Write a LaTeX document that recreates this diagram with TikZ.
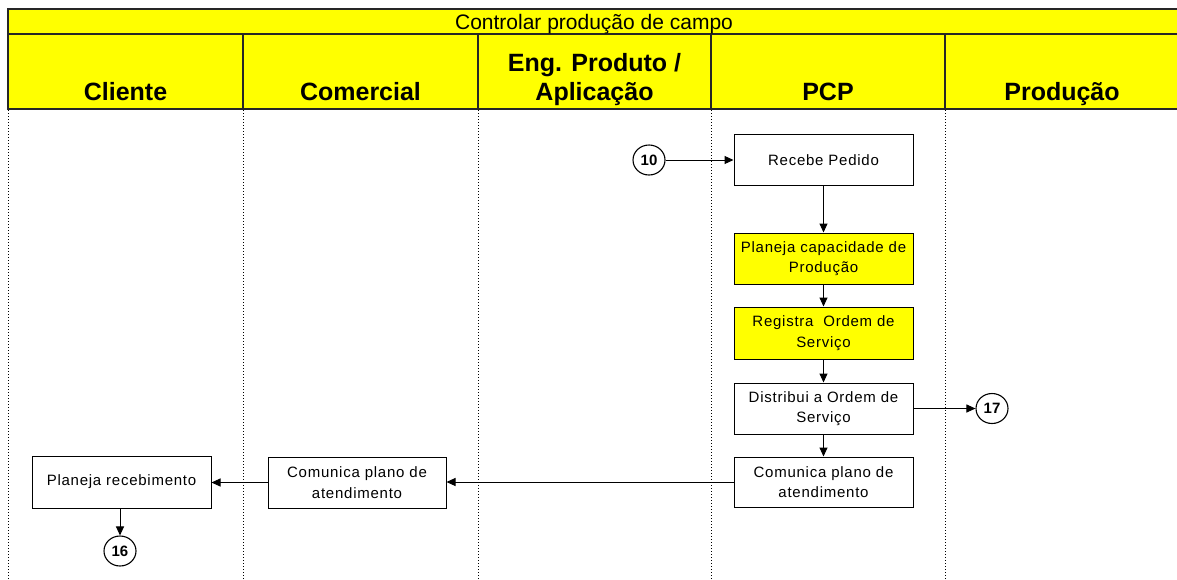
\documentclass[tikz,border=0pt]{standalone}
\usepackage{fontspec}
\setmainfont{Liberation Sans}
\newfontfamily\boxfont[LetterSpace=5]{Liberation Sans}
\usetikzlibrary{arrows.meta,shapes.geometric}
\definecolor{hdryellow}{RGB}{255,255,0}
\tikzset{
  stepbox/.style={draw=black, line width=1pt, rectangle, minimum width=179pt, minimum height=51pt, inner sep=0pt, align=center, font=\boxfont\fontsize{15}{20.5}\selectfont},
  yelbox/.style={stepbox, fill=hdryellow},
  conn/.style={draw=black, line width=1.1pt, ellipse, minimum width=32pt, minimum height=30pt, inner sep=0pt, font=\bfseries\fontsize{15}{15}\selectfont},
  flow/.style={line width=1pt, -{Triangle[length=9pt,width=8pt]}},
  lane/.style={line width=1pt, dotted, black},
  lanehdr/.style={font=\bfseries\fontsize{25}{29}\selectfont, anchor=base},
  hdrline/.style={line width=1.4pt, black!85}
}
\begin{document}
\begin{tikzpicture}[x=1pt,y=-1pt]
\useasboundingbox (0,0) rectangle (1177,579);
% header
\fill[hdryellow] (8,9) rectangle (1180,109);
\draw[hdrline] (1180,9) -- (8,9) -- (8,109) -- (1180,109);
\draw[hdrline] (8,34) -- (1180,34);
\foreach \x in {243,478,711,945} \draw[hdrline] (\x,34) -- (\x,109);
\node[font=\fontsize{21}{24}\selectfont, anchor=base] (title) at (594,29) {Controlar produção de campo};
\node[lanehdr] (hcli) at (125.5,100) {Cliente};
\node[lanehdr] (hcom) at (360.5,100) {Comercial};
\node[lanehdr] (heng1) at (594.5,71) {Eng. Produto /};
\node[lanehdr] (heng2) at (594.5,100) {Aplicação};
\node[lanehdr] (hpcp) at (828,100) {PCP};
\node[lanehdr] (hprod) at (1062,100) {Produção};
% lanes
\foreach \x in {8,243,478,711,945} \draw[lane] (\x,110) -- (\x,579);
% boxes
\node[stepbox] (recebe) at (823.5,160) {Recebe Pedido};
\node[yelbox] (planeja) at (823.5,258.5) {Planeja capacidade de\\Produção};
\node[yelbox, minimum height=52pt] (registra) at (823.5,333) {Registra\ \ Ordem de\\Serviço};
\node[stepbox] (distribui) at (823.5,408.5) {Distribui a Ordem de\\Serviço};
\node[stepbox, minimum height=50pt] (compcp) at (823.5,482) {Comunica plano de\\atendimento};
\node[stepbox, minimum width=178pt] (comcom) at (357,482.5) {Comunica plano de\\atendimento};
\node[stepbox, minimum height=52pt] (planrec) at (121.5,482) {Planeja recebimento};
% connectors
\node[conn] (c10) at (649,160) {10};
\node[conn] (c17) at (992,408.5) {17};
\node[conn] (c16) at (120,551) {16};
\draw[flow] (c10.east) -- (recebe.west |- c10.east);
\draw[flow] (recebe) -- (planeja);
\draw[flow] (planeja) -- (registra);
\draw[flow] (registra) -- (distribui);
\draw[flow] (distribui) -- (compcp);
\draw[flow] (distribui.east) -- (c17.west);
\draw[flow] (compcp.west) -- (comcom.east |- compcp.west);
\draw[flow] (comcom.west) -- (planrec.east |- comcom.west);
\draw[flow] (c16.north |- planrec.south) -- (c16.north);
\end{tikzpicture}
\end{document}
